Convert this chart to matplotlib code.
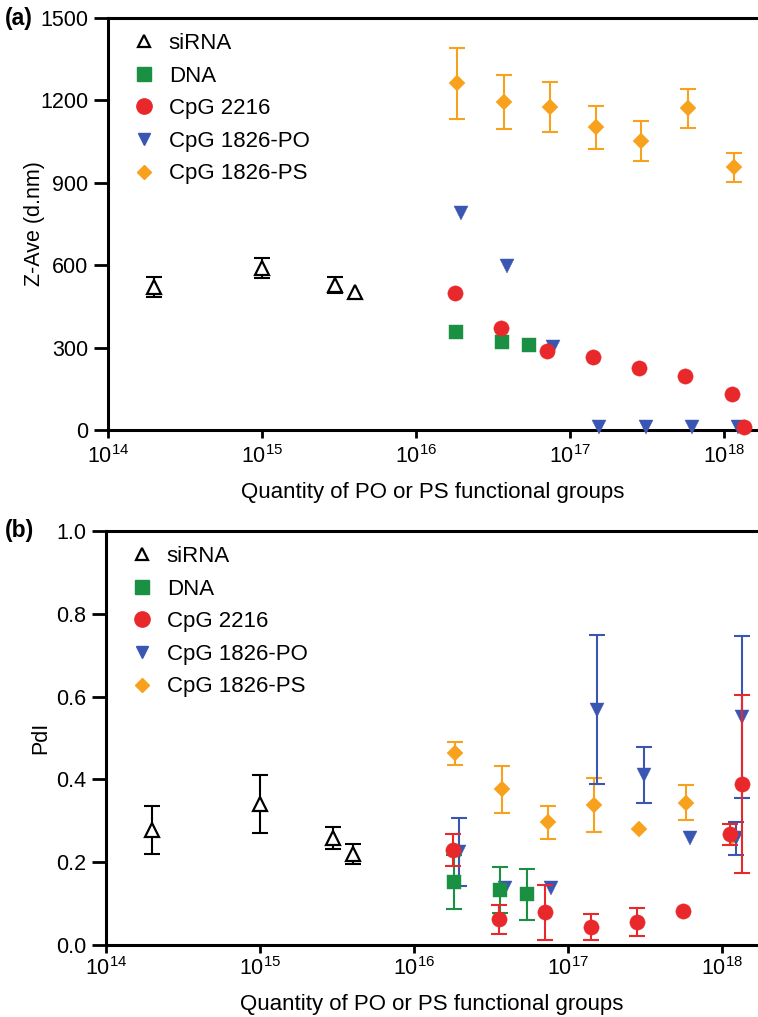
import numpy as np
import matplotlib
matplotlib.use("Agg")
import matplotlib.pyplot as plt
from matplotlib.lines import Line2D

plt.rcParams['font.family'] = ['Liberation Sans', 'DejaVu Sans']
plt.rcParams['mathtext.fontset'] = 'custom'
plt.rcParams['mathtext.rm'] = 'Liberation Sans'
plt.rcParams['mathtext.it'] = 'Liberation Sans:italic'
plt.rcParams['mathtext.default'] = 'regular'

# ---- panel (a): Z-Ave ----
a_sirna_x = [2e14, 1e15, 3e15, 4e15]
a_sirna_y = [520, 590, 528, 503]
a_sirna_e = [37, 36, 29, 0]

a_dna_x = [1.81e16, 3.6e16, 5.4e16]
a_dna_y = [358, 319, 309]

a_2216_x = [1.79e16, 3.58e16, 7.1e16, 1.42e17, 2.82e17, 5.6e17, 1.12e18, 1.35e18]
a_2216_y = [498, 370, 288, 267, 225, 197, 130, 12]

a_po_x = [1.96e16, 3.9e16, 7.8e16, 1.55e17, 3.1e17, 6.2e17, 1.24e18]
a_po_y = [791, 597, 303, 12, 12, 12, 12]

a_ps_x = [1.85e16, 3.7e16, 7.4e16, 1.48e17, 2.9e17, 5.8e17, 1.16e18]
a_ps_y = [1262, 1195, 1177, 1102, 1053, 1171, 956]
a_ps_e = [130, 98, 91, 78, 73, 70, 52]

# ---- panel (b): PdI ----
b_sirna_x = [2e14, 1e15, 3e15, 4e15]
b_sirna_y = [0.278, 0.341, 0.259, 0.220]
b_sirna_e = [0.058, 0.070, 0.027, 0.024]

b_dna_x = [1.81e16, 3.6e16, 5.4e16]
b_dna_y = [0.153, 0.133, 0.122]
b_dna_e = [0.065, 0.056, 0.062]

b_2216_x = [1.79e16, 3.58e16, 7.1e16, 1.42e17, 2.82e17, 5.6e17, 1.12e18, 1.35e18]
b_2216_y = [0.229, 0.062, 0.079, 0.043, 0.056, 0.082, 0.267, 0.389]
b_2216_e = [0.038, 0.035, 0.066, 0.032, 0.034, 0, 0.025, 0.214]

b_po_x = [1.96e16, 3.9e16, 7.8e16, 1.55e17, 3.1e17, 6.2e17, 1.24e18, 1.35e18]
b_po_y = [0.225, 0.137, 0.137, 0.568, 0.410, 0.258, 0.258, 0.551]
b_po_e = [0.082, 0, 0, 0.180, 0.068, 0, 0.040, 0.195]

b_ps_x = [1.85e16, 3.7e16, 7.4e16, 1.48e17, 2.9e17, 5.8e17, 1.16e18]
b_ps_y = [0.463, 0.376, 0.296, 0.338, 0.279, 0.344, 0.262]
b_ps_e = [0.028, 0.056, 0.039, 0.066, 0, 0.042, 0]

labels = ['siRNA', 'DNA', 'CpG 2216', 'CpG 1826-PO', 'CpG 1826-PS']
c_black = 'black'
c_green = '#1a9142'
c_red = '#e8282b'
c_blue = '#3a56b3'
c_orange = '#f7a11c'

fig = plt.figure(figsize=(7.58, 10.17), dpi=100)
W, H = 758, 1017


def series(ax, x, y, e, color, marker, ms, mfc, z):
    x = np.array(x)
    y = np.array(y)
    if e is not None:
        e = np.array(e)
        m = e > 0
        ax.errorbar(x[m], y[m], yerr=e[m], fmt='none', ecolor=color,
                    elinewidth=1.5, capsize=6, capthick=1.5, zorder=z)
    ax.plot(x, y, linestyle='none', marker=marker, ms=ms, color=color,
            mfc=mfc, mec=color, mew=1.6 if mfc == 'white' else 0.3,
            zorder=z + 0.5, clip_on=False)


def style(ax, left_px, top_px, ylabel, yticks, yfmt, tag, xpad, xlpad, ylpad):
    x0 = 10 ** (14 + (W - left_px) / 154.0)
    ax.set_xscale('log')
    ax.set_xlim(1e14, x0)
    ax.set_ylim(yticks[0], yticks[-1])
    ax.set_yticks(yticks)
    ax.set_yticklabels([yfmt.format(v) for v in yticks])
    ax.set_xticks([1e14, 1e15, 1e16, 1e17, 1e18])
    ax.xaxis.set_minor_locator(matplotlib.ticker.NullLocator())
    ax.tick_params(axis='y', which='major', direction='out', length=10,
                   width=2, labelsize=15.5, pad=4)
    ax.tick_params(axis='x', which='major', direction='out', length=6,
                   width=2, labelsize=15.5, pad=xpad)
    for s in ['left', 'bottom', 'top']:
        ax.spines[s].set_linewidth(2.2)
    ax.spines['right'].set_visible(False)
    ax.set_xlabel('Quantity of PO or PS functional groups', fontsize=16, labelpad=xlpad)
    ax.set_ylabel(ylabel, fontsize=15.5, labelpad=ylpad)
    fig.text(5 / W, 1 - top_px / H, tag, fontsize=16.5, fontweight='bold',
             ha='left', va='center')
    handles = [
        Line2D([], [], ls='none', marker='^', ms=9, mfc='white', mec=c_black, mew=1.6),
        Line2D([], [], ls='none', marker='s', ms=10, color=c_green),
        Line2D([], [], ls='none', marker='o', ms=11, color=c_red),
        Line2D([], [], ls='none', marker='v', ms=9, color=c_blue),
        Line2D([], [], ls='none', marker='D', ms=7, color=c_orange),
    ]
    ax.legend(handles, labels, loc='upper left', frameon=False, fontsize=16,
              handlelength=1.0, handletextpad=0.6, labelspacing=0.52,
              borderaxespad=0.0, bbox_to_anchor=(0.025, 0.985))


# panel (a)
la, ta, ba = 108, 18, 430
axa = fig.add_axes([la / W, 1 - ba / H, (W - la) / W, (ba - ta) / H])
series(axa, a_sirna_x, a_sirna_y, a_sirna_e, c_black, '^', 10.5, 'white', 3)
series(axa, a_ps_x, a_ps_y, a_ps_e, c_orange, 'D', 8, c_orange, 4)
series(axa, a_po_x, a_po_y, None, c_blue, 'v', 10.5, c_blue, 5)
series(axa, a_dna_x, a_dna_y, None, c_green, 's', 10.5, c_green, 6)
series(axa, a_2216_x, a_2216_y, None, c_red, 'o', 11, c_red, 7)
style(axa, la, ta, 'Z-Ave (d.nm)', [0, 300, 600, 900, 1200, 1500], '{:d}', '(a)',
      xpad=5, xlpad=10, ylpad=-3)

# panel (b)
lb, tb, bb = 106, 531, 945
axb = fig.add_axes([lb / W, 1 - bb / H, (W - lb) / W, (bb - tb) / H])
series(axb, b_sirna_x, b_sirna_y, b_sirna_e, c_black, '^', 10.5, 'white', 3)
series(axb, b_ps_x, b_ps_y, b_ps_e, c_orange, 'D', 8, c_orange, 4)
series(axb, b_po_x, b_po_y, b_po_e, c_blue, 'v', 10.5, c_blue, 5)
series(axb, b_dna_x, b_dna_y, b_dna_e, c_green, 's', 10.5, c_green, 6)
series(axb, b_2216_x, b_2216_y, b_2216_e, c_red, 'o', 11, c_red, 7)
style(axb, lb, tb, 'PdI', [0.0, 0.2, 0.4, 0.6, 0.8, 1.0], '{:.1f}', '(b)',
      xpad=3, xlpad=10, ylpad=4)

fig.savefig('out.png', dpi=100)
